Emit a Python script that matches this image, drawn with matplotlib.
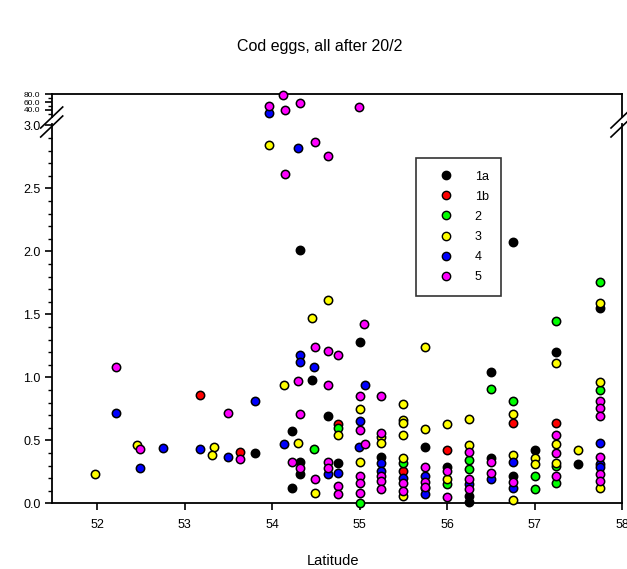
import matplotlib
matplotlib.use("Agg")
import matplotlib.pyplot as plt
from matplotlib.lines import Line2D

plt.rcParams['font.family'] = ['Liberation Sans', 'DejaVu Sans']

# ---- data (latitude, number of eggs) ----
lat_1a = [54.32, 56.75, 57.75, 55.00, 54.46, 54.64, 54.23, 53.80, 54.32, 54.32, 54.23, 54.75,
          57.25, 56.50, 55.75, 57.50, 57.00, 55.25, 56.00, 56.25, 56.75, 56.50, 56.25]
val_1a = [2.01, 2.07, 1.55, 1.28, 0.98, 0.69, 0.57, 0.40, 0.33, 0.23, 0.12, 0.32,
          1.20, 1.04, 0.45, 0.31, 0.42, 0.37, 0.29, 0.06, 0.22, 0.36, 0.01]

lat_1b = [53.17, 53.63, 54.75, 56.75, 56.00, 57.25, 55.50]
val_1b = [0.86, 0.41, 0.63, 0.64, 0.42, 0.64, 0.26]

lat_2 = [57.75, 57.25, 56.50, 56.75, 57.75, 54.75, 54.48, 56.25, 56.25, 55.50, 57.00, 57.00,
         57.25, 57.25, 56.00, 55.00, 55.75]
val_2 = [1.76, 1.45, 0.91, 0.81, 0.90, 0.60, 0.43, 0.34, 0.27, 0.32, 0.22, 0.11,
         0.16, 0.30, 0.15, 0.00, 0.12]

lat_3 = [53.97, 54.64, 54.46, 55.75, 57.25, 57.75, 57.75, 54.14, 55.00, 55.50, 55.50, 55.50,
         55.50, 55.75, 56.00, 56.25, 56.75, 54.75, 53.33, 53.31, 52.46, 51.98, 54.30, 54.49,
         55.00, 55.25, 55.25, 55.50, 55.50, 56.00, 56.25, 56.75, 56.75, 57.00, 57.00, 57.25,
         57.25, 57.50, 57.75]
val_3 = [2.84, 1.61, 1.47, 1.24, 1.11, 1.59, 0.96, 0.94, 0.75, 0.79, 0.66, 0.64,
         0.54, 0.59, 0.63, 0.67, 0.71, 0.54, 0.45, 0.38, 0.46, 0.23, 0.48, 0.08,
         0.33, 0.53, 0.48, 0.36, 0.06, 0.19, 0.46, 0.38, 0.03, 0.36, 0.31, 0.47,
         0.32, 0.42, 0.12]

lat_4 = [54.30, 54.32, 54.32, 54.48, 55.06, 53.80, 52.22, 55.00, 52.75, 53.17, 53.50, 52.49,
         54.14, 54.99, 54.64, 54.75, 55.25, 55.25, 55.50, 55.75, 55.75, 56.25, 56.50, 56.75,
         56.75, 57.75, 57.75, 57.75]
val_4 = [2.82, 1.18, 1.12, 1.08, 0.94, 0.81, 0.72, 0.65, 0.44, 0.43, 0.37, 0.28,
         0.47, 0.45, 0.23, 0.24, 0.32, 0.26, 0.20, 0.22, 0.07, 0.15, 0.19, 0.33,
         0.12, 0.48, 0.31, 0.29]

lat_5 = [54.49, 54.64, 54.15, 55.05, 54.49, 54.64, 54.75, 52.22, 54.30, 54.64, 55.00, 55.25,
         53.50, 54.32, 55.00, 55.06, 52.49, 53.63, 54.23, 54.32, 54.49, 54.64, 54.64, 54.75,
         54.75, 55.00, 55.00, 55.00, 55.25, 55.25, 55.25, 55.25, 55.50, 55.50, 55.75, 55.75,
         55.75, 56.00, 56.00, 56.25, 56.25, 56.25, 56.50, 56.50, 56.75, 57.25, 57.25, 57.25,
         57.75, 57.75, 57.75, 57.75, 57.75, 57.75]
val_5 = [2.87, 2.76, 2.61, 1.42, 1.24, 1.21, 1.18, 1.08, 0.97, 0.94, 0.85, 0.85,
         0.72, 0.71, 0.58, 0.47, 0.43, 0.35, 0.33, 0.28, 0.19, 0.33, 0.28, 0.14,
         0.07, 0.22, 0.16, 0.08, 0.56, 0.22, 0.18, 0.11, 0.16, 0.10, 0.29, 0.17,
         0.13, 0.26, 0.05, 0.41, 0.19, 0.11, 0.33, 0.24, 0.17, 0.54, 0.40, 0.22,
         0.81, 0.76, 0.69, 0.37, 0.23, 0.18]

# values above the axis break (upper panel)
lat_4_hi = [53.97]
val_4_hi = [31.5]
lat_5_hi = [54.13, 53.97, 54.15, 54.32, 54.99]
val_5_hi = [78.2, 50.1, 39.9, 57.0, 46.8]

labels = ['1a', '1b', '2', '3', '4', '5']
colors = ['#000000', '#ff0000', '#00ff00', '#ffff00', '#0000ff', '#ff00ff']
lo_lats = [lat_1a, lat_1b, lat_2, lat_3, lat_4, lat_5]
lo_vals = [val_1a, val_1b, val_2, val_3, val_4, val_5]
hi_lats = [[], [], [], [], lat_4_hi, lat_5_hi]
hi_vals = [[], [], [], [], val_4_hi, val_5_hi]

yticks_lo = [0.0, 0.5, 1.0, 1.5, 2.0, 2.5, 3.0]
yticks_hi = [40, 60, 80]
xticks = [52, 53, 54, 55, 56, 57, 58]

W, H = 627, 569
fig = plt.figure(figsize=(W / 100, H / 100), dpi=100)

def fx(px):
    return px / W

def fy(py):
    return 1 - py / H

left, right = 51.7, 622.0
lo_top, lo_bot = 124.0, 503.3
hi_top, hi_bot = 94.3, 117.0

ax = fig.add_axes([fx(left), fy(lo_bot), fx(right) - fx(left), fy(lo_top) - fy(lo_bot)])
axh = fig.add_axes([fx(left), fy(hi_bot), fx(right) - fx(left), fy(hi_top) - fy(hi_bot)])

ms = 36
for la, va, c, lab in zip(lo_lats, lo_vals, colors, labels):
    ax.scatter(la, va, s=ms, c=c, edgecolors='black', linewidths=1.1, zorder=3, clip_on=False)
for la, va, c in zip(hi_lats, hi_vals, colors):
    if la:
        axh.scatter(la, va, s=ms, c=c, edgecolors='black', linewidths=1.1, zorder=3, clip_on=False)

xlim = (51.48, 58.0)
ax.set_xlim(*xlim)
axh.set_xlim(*xlim)
ax.set_ylim(0, (lo_bot - lo_top) / 126.0)
axh.set_ylim(22, 80)

for a in (ax, axh):
    for s in a.spines.values():
        s.set_linewidth(1.3)
        s.set_color('black')
ax.spines['top'].set_visible(False)
axh.spines['bottom'].set_visible(False)

ax.set_xticks(xticks)
ax.set_xticklabels([str(t) for t in xticks])
ax.set_yticks(yticks_lo)
ax.set_yticklabels(['%.1f' % t for t in yticks_lo])
ax.set_yticks([i / 10 for i in range(0, 31)], minor=True)
ax.tick_params(axis='both', which='major', direction='out', length=5, width=1.2,
               labelsize=9, pad=3)
ax.tick_params(axis='y', which='minor', direction='out', length=3, width=1.0)
ax.tick_params(axis='x', which='major', pad=6)

axh.set_xticks([])
axh.set_yticks(yticks_hi)
axh.set_yticklabels(['%.1f' % t for t in yticks_hi])
axh.set_yticks([30, 50, 70], minor=True)
axh.tick_params(axis='y', which='major', direction='out', length=5, width=1.2,
                labelsize=6, pad=3)
axh.tick_params(axis='y', which='minor', direction='out', length=3, width=1.0)

# axis break marks
for xb in (left, right):
    for dy in (0, 9):
        fig.add_artist(Line2D([fx(xb - 11), fx(xb + 11)], [fy(128 + dy), fy(107 + dy)],
                              color='black', lw=1.2, transform=fig.transFigure))

# legend
handles = [Line2D([], [], marker='o', ls='none', markersize=6.0, markerfacecolor=c,
                  markeredgecolor='black', markeredgewidth=1.0) for c in colors]
leg = fig.legend(handles, labels, loc='upper left',
                 bbox_to_anchor=(fx(416), fy(158)), frameon=True, fontsize=9,
                 handlelength=2.8, handletextpad=0.9, labelspacing=0.65,
                 borderpad=1.0, borderaxespad=0, fancybox=False)
leg.get_frame().set_edgecolor('black')
leg.get_frame().set_linewidth(1.2)

fig.text(fx(320), fy(47), 'Cod eggs, all after 20/2', ha='center', va='center', fontsize=11.5)
fig.text(fx(333), fy(561), 'Latitude', ha='center', va='center', fontsize=10.5)

fig.savefig('out.png', dpi=100)
